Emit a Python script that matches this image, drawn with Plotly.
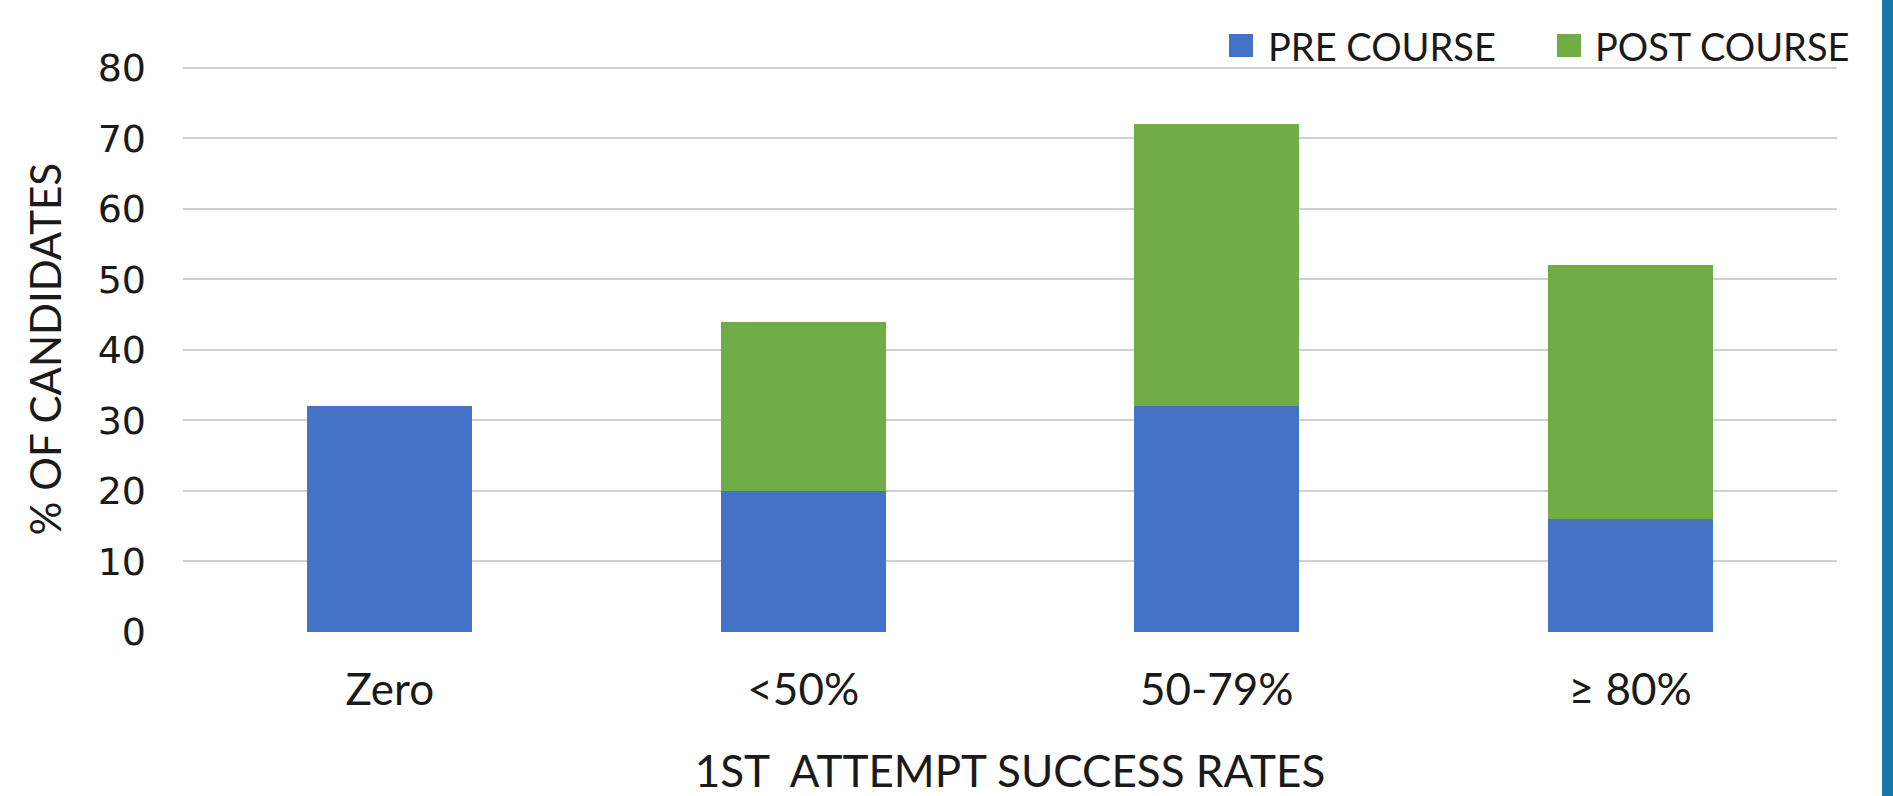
import plotly.graph_objects as go

categories = ["Zero", "<50%", "50-79%", "\u2265 80%"]
pre_course = [32, 20, 32, 16]
post_course = [0, 24, 40, 36]
y_ticks = [0, 10, 20, 30, 40, 50, 60, 70, 80]
series_names = ["PRE COURSE", "POST COURSE"]
series_colors = ["#4472C4", "#70AD47"]

W, H = 1893, 796
L, R, T, B = 183, 56, 66, 164
pw = W - L - R
ph = H - T - B

fig = go.Figure()
for name, vals, col in zip(series_names, [pre_course, post_course], series_colors):
    fig.add_trace(go.Bar(x=categories, y=vals, name=name, marker=dict(color=col, line=dict(width=0)),
                         showlegend=False))

def px_x(x):
    return (x - L) / pw

def px_y(y):
    return (H - B - y) / ph

# manual legend (shapes + text)
legend_items = [(1229, 1266), (1557, 1593)]
for (sx, tx), name, col in zip(legend_items, series_names, series_colors):
    fig.add_shape(type="rect", xref="paper", yref="paper",
                  x0=px_x(sx), x1=px_x(sx + 24), y0=px_y(34), y1=px_y(57),
                  fillcolor=col, line=dict(width=0))
    fig.add_annotation(xref="paper", yref="paper", x=px_x(tx), y=px_y(46),
                       text=name, showarrow=False, xanchor="left", yanchor="middle",
                       font=dict(family="Lato, Noto Sans, sans-serif", size=38, color="#1a1a1a"))

# right edge stripe
fig.add_shape(type="rect", xref="paper", yref="paper",
              x0=px_x(1882), x1=px_x(1900), y0=px_y(-5), y1=px_y(H + 5),
              fillcolor="#1677A8", line=dict(width=0), layer="above")

fig.update_layout(
    width=W, height=H,
    margin=dict(l=L, r=R, t=T, b=B, pad=0, autoexpand=False),
    barmode="stack",
    bargap=0.6,
    plot_bgcolor="white",
    paper_bgcolor="white",
    showlegend=False,
    xaxis=dict(
        showgrid=False, showline=False, zeroline=False,
        ticks="", ticklabelstandoff=28,
        tickfont=dict(family="Lato, Noto Sans, sans-serif", size=44, color="#1a1a1a"),
        title=dict(text="1ST  ATTEMPT SUCCESS RATES", standoff=44,
                   font=dict(family="Lato, Noto Sans, sans-serif", size=44, color="#1a1a1a")),
    ),
    yaxis=dict(
        range=[0, 80.25], tickvals=y_ticks, ticktext=[str(v) for v in y_ticks],
        showgrid=True, gridcolor="#D0D0D0", gridwidth=2,
        zeroline=False, showline=False, ticks="", ticklabelstandoff=36,
        tickfont=dict(family="DejaVu Sans, sans-serif", size=38, color="#1a1a1a"),
        title=dict(text="% OF CANDIDATES", standoff=22,
                   font=dict(family="Lato, Noto Sans, sans-serif", size=42, color="#1a1a1a")),
    ),
)

fig.write_html("out.html", config={"displayModeBar": False},
               post_script="document.body.style.margin='0px';document.body.style.overflow='hidden';")
